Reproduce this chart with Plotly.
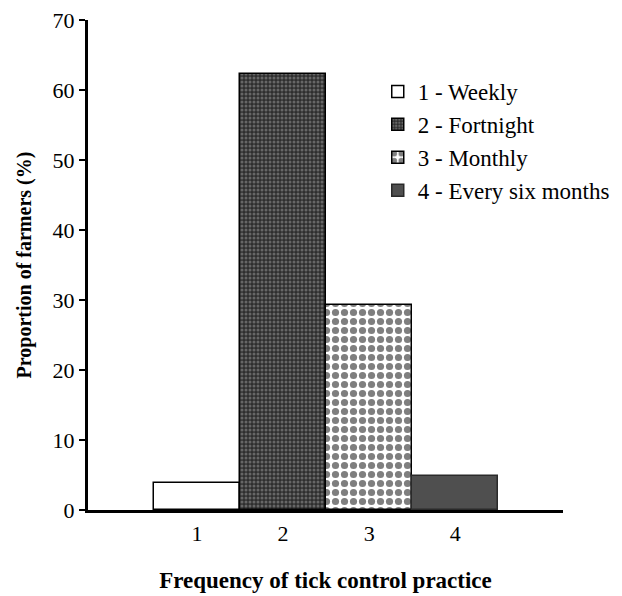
import plotly.graph_objects as go

categories = [1, 2, 3, 4]
labels = ["1 - Weekly", "2 - Fortnight", "3 - Monthly", "4 - Every six months"]
values = [3.8, 62.3, 29.3, 4.8]

fills = [
    dict(color="white", pattern=None, line="black"),
    dict(color="#3a3a3a", pattern=dict(shape=".", fgcolor="#a0a0a0", bgcolor="#2e2e2e", size=4, solidity=0.45), line="black"),
    dict(color="white", pattern=dict(shape=".", fgcolor="black", bgcolor="white", size=9, solidity=0.5), line="black"),
    dict(color="#4f4f4f", pattern=None, line="#2a2a2a"),
]

fig = go.Figure()
for c, lab, v, f in zip(categories, labels, values, fills):
    marker = dict(color=f["color"], line=dict(color=f["line"], width=1.5))
    if f["pattern"]:
        marker["pattern"] = f["pattern"]
    fig.add_trace(go.Bar(x=[c], y=[v], name=lab, width=1, marker=marker))

font_family = "Liberation Serif"
fig.update_layout(
    width=622, height=596,
    margin=dict(l=80, r=67, t=12, b=94),
    paper_bgcolor="white", plot_bgcolor="white",
    barmode="overlay", bargap=0,
    font=dict(family=font_family, size=22, color="black"),
    legend=dict(x=0.61, y=0.898, xanchor="left", yanchor="top",
                font=dict(family=font_family, size=23, color="black"),
                bgcolor="rgba(0,0,0,0)", tracegroupgap=0, itemwidth=30),
    xaxis=dict(range=[-0.265, 5.25], tickvals=categories, ticktext=[str(c) for c in categories],
               showline=True, linecolor="black", linewidth=3, ticks="", showgrid=False,
               zeroline=False, ticklabelstandoff=2, automargin=False,
               tickfont=dict(size=22),
               title=dict(text="<b>Frequency of tick control practice</b>", standoff=27,
                          font=dict(family=font_family, size=23))),
    yaxis=dict(range=[0, 70], tickvals=[0, 10, 20, 30, 40, 50, 60, 70],
               showline=True, linecolor="black", linewidth=3, ticks="outside", ticklen=6,
               tickwidth=2, tickcolor="black", showgrid=False, zeroline=False,
               automargin=False, tickfont=dict(size=22), ticklabeloverflow="allow",
               title=dict(text="<b>Proportion of farmers (%)</b>", standoff=16,
                          font=dict(family=font_family, size=20))),
)

fig.write_html("out.html")
